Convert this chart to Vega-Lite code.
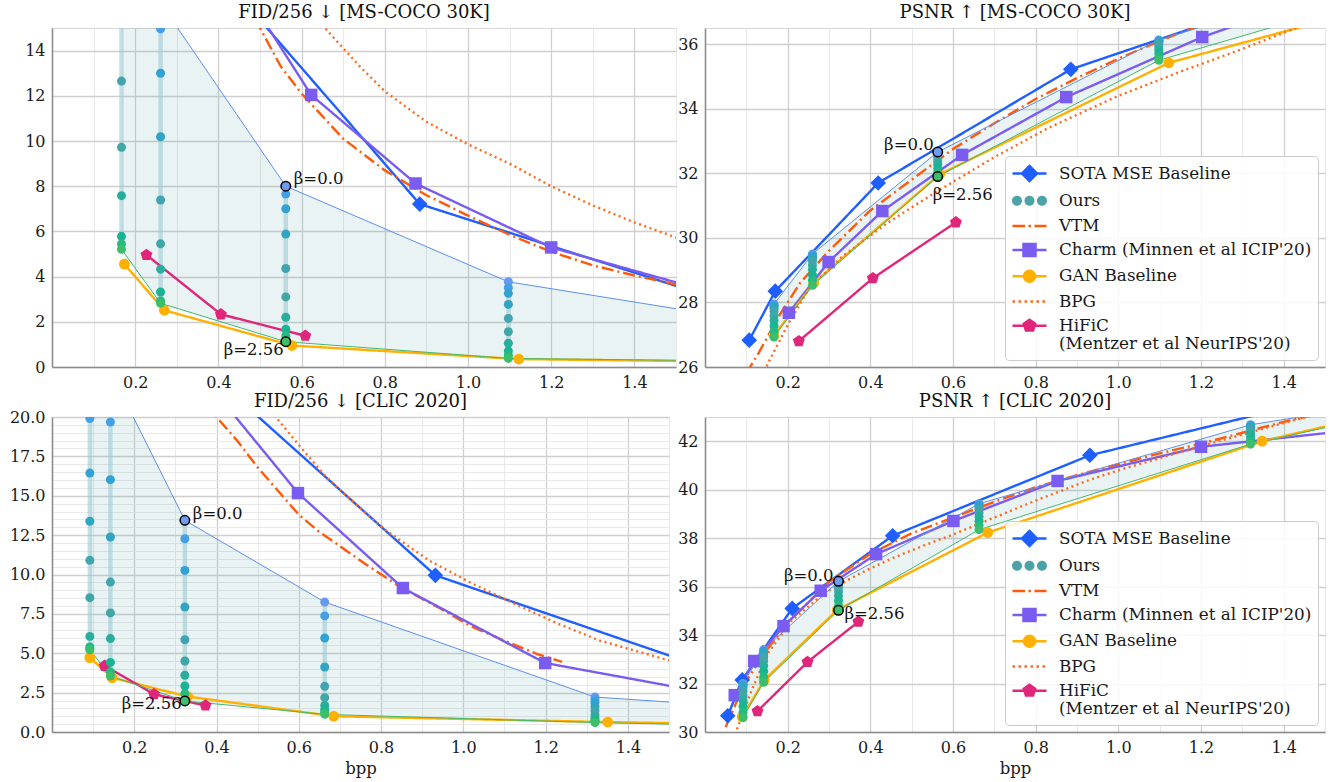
{
"$schema": "https://vega.github.io/schema/vega-lite/v6.json",
"padding": {"left": 8, "top": 3, "right": 2, "bottom": 2},
"datasets": {
"ours": [
{"p":"TL","bpp":0.167,"b":0,"v":30.0},{"p":"TL","bpp":0.167,"b":1,"v":24.0},{"p":"TL","bpp":0.167,"b":2,"v":19.2},{"p":"TL","bpp":0.167,"b":3,"v":15.8},{"p":"TL","bpp":0.167,"b":4,"v":12.65},{"p":"TL","bpp":0.167,"b":5,"v":9.72},{"p":"TL","bpp":0.167,"b":6,"v":7.58},{"p":"TL","bpp":0.167,"b":7,"v":5.78},{"p":"TL","bpp":0.167,"b":8,"v":5.44},{"p":"TL","bpp":0.167,"b":9,"v":5.21},
{"p":"TL","bpp":0.261,"b":0,"v":16.1},{"p":"TL","bpp":0.261,"b":1,"v":14.96},{"p":"TL","bpp":0.261,"b":2,"v":13.0},{"p":"TL","bpp":0.261,"b":3,"v":10.19},{"p":"TL","bpp":0.261,"b":4,"v":7.39},{"p":"TL","bpp":0.261,"b":5,"v":5.45},{"p":"TL","bpp":0.261,"b":6,"v":4.33},{"p":"TL","bpp":0.261,"b":7,"v":3.32},{"p":"TL","bpp":0.261,"b":8,"v":2.92},{"p":"TL","bpp":0.261,"b":9,"v":2.82},
{"p":"TL","bpp":0.562,"b":0,"v":8.0},{"p":"TL","bpp":0.562,"b":1,"v":7.65},{"p":"TL","bpp":0.562,"b":2,"v":7.0},{"p":"TL","bpp":0.562,"b":3,"v":5.88},{"p":"TL","bpp":0.562,"b":4,"v":4.36},{"p":"TL","bpp":0.562,"b":5,"v":3.1},{"p":"TL","bpp":0.562,"b":6,"v":2.2},{"p":"TL","bpp":0.562,"b":7,"v":1.67},{"p":"TL","bpp":0.562,"b":8,"v":1.37},{"p":"TL","bpp":0.562,"b":9,"v":1.12},
{"p":"TL","bpp":1.097,"b":0,"v":3.77},{"p":"TL","bpp":1.097,"b":1,"v":3.51},{"p":"TL","bpp":1.097,"b":2,"v":3.26},{"p":"TL","bpp":1.097,"b":3,"v":2.77},{"p":"TL","bpp":1.097,"b":4,"v":2.15},{"p":"TL","bpp":1.097,"b":5,"v":1.56},{"p":"TL","bpp":1.097,"b":6,"v":1.05},{"p":"TL","bpp":1.097,"b":7,"v":0.71},{"p":"TL","bpp":1.097,"b":8,"v":0.52},{"p":"TL","bpp":1.097,"b":9,"v":0.38},
{"p":"TL","bpp":1.75,"b":0,"v":1.84},{"p":"TL","bpp":1.75,"b":9,"v":0.25},
{"p":"TR","bpp":0.167,"b":0,"v":27.95},{"p":"TR","bpp":0.167,"b":1,"v":27.92},{"p":"TR","bpp":0.167,"b":2,"v":27.88},{"p":"TR","bpp":0.167,"b":3,"v":27.82},{"p":"TR","bpp":0.167,"b":4,"v":27.73},{"p":"TR","bpp":0.167,"b":5,"v":27.59},{"p":"TR","bpp":0.167,"b":6,"v":27.44},{"p":"TR","bpp":0.167,"b":7,"v":27.27},{"p":"TR","bpp":0.167,"b":8,"v":27.09},{"p":"TR","bpp":0.167,"b":9,"v":26.93},
{"p":"TR","bpp":0.26,"b":0,"v":29.5},{"p":"TR","bpp":0.26,"b":1,"v":29.47},{"p":"TR","bpp":0.26,"b":2,"v":29.43},{"p":"TR","bpp":0.26,"b":3,"v":29.37},{"p":"TR","bpp":0.26,"b":4,"v":29.29},{"p":"TR","bpp":0.26,"b":5,"v":29.16},{"p":"TR","bpp":0.26,"b":6,"v":29.02},{"p":"TR","bpp":0.26,"b":7,"v":28.85},{"p":"TR","bpp":0.26,"b":8,"v":28.69},{"p":"TR","bpp":0.26,"b":9,"v":28.53},
{"p":"TR","bpp":0.563,"b":0,"v":32.66},{"p":"TR","bpp":0.563,"b":1,"v":32.64},{"p":"TR","bpp":0.563,"b":2,"v":32.61},{"p":"TR","bpp":0.563,"b":3,"v":32.56},{"p":"TR","bpp":0.563,"b":4,"v":32.49},{"p":"TR","bpp":0.563,"b":5,"v":32.39},{"p":"TR","bpp":0.563,"b":6,"v":32.28},{"p":"TR","bpp":0.563,"b":7,"v":32.15},{"p":"TR","bpp":0.563,"b":8,"v":32.02},{"p":"TR","bpp":0.563,"b":9,"v":31.9},
{"p":"TR","bpp":1.098,"b":0,"v":36.13},{"p":"TR","bpp":1.098,"b":1,"v":36.11},{"p":"TR","bpp":1.098,"b":2,"v":36.09},{"p":"TR","bpp":1.098,"b":3,"v":36.05},{"p":"TR","bpp":1.098,"b":4,"v":35.99},{"p":"TR","bpp":1.098,"b":5,"v":35.91},{"p":"TR","bpp":1.098,"b":6,"v":35.82},{"p":"TR","bpp":1.098,"b":7,"v":35.71},{"p":"TR","bpp":1.098,"b":8,"v":35.6},{"p":"TR","bpp":1.098,"b":9,"v":35.5},
{"p":"TR","bpp":1.75,"b":0,"v":38.7},{"p":"TR","bpp":1.75,"b":9,"v":37.93},
{"p":"BL","bpp":0.092,"b":0,"v":30.0},{"p":"BL","bpp":0.092,"b":1,"v":19.9},{"p":"BL","bpp":0.092,"b":2,"v":16.44},{"p":"BL","bpp":0.092,"b":3,"v":13.38},{"p":"BL","bpp":0.092,"b":4,"v":10.9},{"p":"BL","bpp":0.092,"b":5,"v":8.53},{"p":"BL","bpp":0.092,"b":6,"v":6.07},{"p":"BL","bpp":0.092,"b":7,"v":5.4},{"p":"BL","bpp":0.092,"b":8,"v":5.28},{"p":"BL","bpp":0.092,"b":9,"v":5.21},
{"p":"BL","bpp":0.142,"b":0,"v":22.9},{"p":"BL","bpp":0.142,"b":1,"v":19.68},{"p":"BL","bpp":0.142,"b":2,"v":16.02},{"p":"BL","bpp":0.142,"b":3,"v":12.38},{"p":"BL","bpp":0.142,"b":4,"v":9.52},{"p":"BL","bpp":0.142,"b":5,"v":7.56},{"p":"BL","bpp":0.142,"b":6,"v":5.93},{"p":"BL","bpp":0.142,"b":7,"v":4.42},{"p":"BL","bpp":0.142,"b":8,"v":3.81},{"p":"BL","bpp":0.142,"b":9,"v":3.55},
{"p":"BL","bpp":0.323,"b":0,"v":13.44},{"p":"BL","bpp":0.323,"b":1,"v":12.27},{"p":"BL","bpp":0.323,"b":2,"v":10.26},{"p":"BL","bpp":0.323,"b":3,"v":7.94},{"p":"BL","bpp":0.323,"b":4,"v":5.86},{"p":"BL","bpp":0.323,"b":5,"v":4.51},{"p":"BL","bpp":0.323,"b":6,"v":3.6},{"p":"BL","bpp":0.323,"b":7,"v":2.92},{"p":"BL","bpp":0.323,"b":8,"v":2.43},{"p":"BL","bpp":0.323,"b":9,"v":1.97},
{"p":"BL","bpp":0.663,"b":0,"v":8.25},{"p":"BL","bpp":0.663,"b":1,"v":7.37},{"p":"BL","bpp":0.663,"b":2,"v":5.97},{"p":"BL","bpp":0.663,"b":3,"v":4.13},{"p":"BL","bpp":0.663,"b":4,"v":2.9},{"p":"BL","bpp":0.663,"b":5,"v":2.18},{"p":"BL","bpp":0.663,"b":6,"v":1.69},{"p":"BL","bpp":0.663,"b":7,"v":1.42},{"p":"BL","bpp":0.663,"b":8,"v":1.25},{"p":"BL","bpp":0.663,"b":9,"v":1.12},
{"p":"BL","bpp":1.32,"b":0,"v":2.22},{"p":"BL","bpp":1.32,"b":1,"v":2.05},{"p":"BL","bpp":1.32,"b":2,"v":1.85},{"p":"BL","bpp":1.32,"b":3,"v":1.6},{"p":"BL","bpp":1.32,"b":4,"v":1.35},{"p":"BL","bpp":1.32,"b":5,"v":1.1},{"p":"BL","bpp":1.32,"b":6,"v":0.9},{"p":"BL","bpp":1.32,"b":7,"v":0.75},{"p":"BL","bpp":1.32,"b":8,"v":0.66},{"p":"BL","bpp":1.32,"b":9,"v":0.6},
{"p":"BL","bpp":1.75,"b":0,"v":1.46},{"p":"BL","bpp":1.75,"b":9,"v":0.36},
{"p":"BR","bpp":0.092,"b":0,"v":32.0},{"p":"BR","bpp":0.092,"b":1,"v":31.96},{"p":"BR","bpp":0.092,"b":2,"v":31.9},{"p":"BR","bpp":0.092,"b":3,"v":31.82},{"p":"BR","bpp":0.092,"b":4,"v":31.69},{"p":"BR","bpp":0.092,"b":5,"v":31.51},{"p":"BR","bpp":0.092,"b":6,"v":31.3},{"p":"BR","bpp":0.092,"b":7,"v":31.06},{"p":"BR","bpp":0.092,"b":8,"v":30.82},{"p":"BR","bpp":0.092,"b":9,"v":30.6},
{"p":"BR","bpp":0.142,"b":0,"v":33.4},{"p":"BR","bpp":0.142,"b":1,"v":33.36},{"p":"BR","bpp":0.142,"b":2,"v":33.31},{"p":"BR","bpp":0.142,"b":3,"v":33.22},{"p":"BR","bpp":0.142,"b":4,"v":33.1},{"p":"BR","bpp":0.142,"b":5,"v":32.93},{"p":"BR","bpp":0.142,"b":6,"v":32.73},{"p":"BR","bpp":0.142,"b":7,"v":32.5},{"p":"BR","bpp":0.142,"b":8,"v":32.27},{"p":"BR","bpp":0.142,"b":9,"v":32.05},
{"p":"BR","bpp":0.323,"b":0,"v":36.22},{"p":"BR","bpp":0.323,"b":1,"v":36.18},{"p":"BR","bpp":0.323,"b":2,"v":36.14},{"p":"BR","bpp":0.323,"b":3,"v":36.06},{"p":"BR","bpp":0.323,"b":4,"v":35.96},{"p":"BR","bpp":0.323,"b":5,"v":35.8},{"p":"BR","bpp":0.323,"b":6,"v":35.62},{"p":"BR","bpp":0.323,"b":7,"v":35.42},{"p":"BR","bpp":0.323,"b":8,"v":35.21},{"p":"BR","bpp":0.323,"b":9,"v":35.02},
{"p":"BR","bpp":0.663,"b":0,"v":39.42},{"p":"BR","bpp":0.663,"b":1,"v":39.39},{"p":"BR","bpp":0.663,"b":2,"v":39.35},{"p":"BR","bpp":0.663,"b":3,"v":39.28},{"p":"BR","bpp":0.663,"b":4,"v":39.18},{"p":"BR","bpp":0.663,"b":5,"v":39.05},{"p":"BR","bpp":0.663,"b":6,"v":38.89},{"p":"BR","bpp":0.663,"b":7,"v":38.7},{"p":"BR","bpp":0.663,"b":8,"v":38.52},{"p":"BR","bpp":0.663,"b":9,"v":38.35},
{"p":"BR","bpp":1.32,"b":0,"v":42.68},{"p":"BR","bpp":1.32,"b":1,"v":42.66},{"p":"BR","bpp":1.32,"b":2,"v":42.62},{"p":"BR","bpp":1.32,"b":3,"v":42.58},{"p":"BR","bpp":1.32,"b":4,"v":42.5},{"p":"BR","bpp":1.32,"b":5,"v":42.4},{"p":"BR","bpp":1.32,"b":6,"v":42.28},{"p":"BR","bpp":1.32,"b":7,"v":42.14},{"p":"BR","bpp":1.32,"b":8,"v":42.0},{"p":"BR","bpp":1.32,"b":9,"v":41.88},
{"p":"BR","bpp":1.75,"b":0,"v":43.84},{"p":"BR","bpp":1.75,"b":9,"v":43.5}
],
"meth": [
{"p":"TL","m":"SOTA","bpp":0.42,"v":17.05},{"p":"TL","m":"SOTA","bpp":0.884,"v":7.21},{"p":"TL","m":"SOTA","bpp":1.75,"v":2.12},
{"p":"TL","m":"VTM","bpp":0.45,"v":17.2},{"p":"TL","m":"VTM","bpp":0.5,"v":15.0},{"p":"TL","m":"VTM","bpp":0.55,"v":13.3},{"p":"TL","m":"VTM","bpp":0.6,"v":12.1},{"p":"TL","m":"VTM","bpp":0.65,"v":11.1},{"p":"TL","m":"VTM","bpp":0.7,"v":10.1},{"p":"TL","m":"VTM","bpp":0.8,"v":8.7},{"p":"TL","m":"VTM","bpp":0.9,"v":7.6},{"p":"TL","m":"VTM","bpp":1.0,"v":6.7},{"p":"TL","m":"VTM","bpp":1.1,"v":5.85},{"p":"TL","m":"VTM","bpp":1.2,"v":5.1},{"p":"TL","m":"VTM","bpp":1.3,"v":4.5},{"p":"TL","m":"VTM","bpp":1.4,"v":4.05},{"p":"TL","m":"VTM","bpp":1.5,"v":3.65},{"p":"TL","m":"VTM","bpp":1.6,"v":3.3},
{"p":"TL","m":"Charm","bpp":0.43,"v":17.6},{"p":"TL","m":"Charm","bpp":0.623,"v":12.04},{"p":"TL","m":"Charm","bpp":0.874,"v":8.12},{"p":"TL","m":"Charm","bpp":1.2,"v":5.29},{"p":"TL","m":"Charm","bpp":1.6,"v":3.23},
{"p":"TL","m":"GAN","bpp":0.174,"v":4.55},{"p":"TL","m":"GAN","bpp":0.27,"v":2.51},{"p":"TL","m":"GAN","bpp":0.577,"v":0.95},{"p":"TL","m":"GAN","bpp":1.122,"v":0.35},{"p":"TL","m":"GAN","bpp":1.9,"v":0.18},
{"p":"TL","m":"BPG","bpp":0.6,"v":16.6},{"p":"TL","m":"BPG","bpp":0.656,"v":15.0},{"p":"TL","m":"BPG","bpp":0.74,"v":13.3},{"p":"TL","m":"BPG","bpp":0.8,"v":12.2},{"p":"TL","m":"BPG","bpp":0.9,"v":10.85},{"p":"TL","m":"BPG","bpp":1.0,"v":9.85},{"p":"TL","m":"BPG","bpp":1.1,"v":9.0},{"p":"TL","m":"BPG","bpp":1.2,"v":8.0},{"p":"TL","m":"BPG","bpp":1.3,"v":7.15},{"p":"TL","m":"BPG","bpp":1.4,"v":6.4},{"p":"TL","m":"BPG","bpp":1.5,"v":5.73},{"p":"TL","m":"BPG","bpp":1.6,"v":5.15},
{"p":"TL","m":"HiFiC","bpp":0.227,"v":4.96},{"p":"TL","m":"HiFiC","bpp":0.406,"v":2.33},{"p":"TL","m":"HiFiC","bpp":0.609,"v":1.38},
{"p":"TR","m":"SOTA","bpp":0.107,"v":26.83},{"p":"TR","m":"SOTA","bpp":0.17,"v":28.35},{"p":"TR","m":"SOTA","bpp":0.419,"v":31.7},{"p":"TR","m":"SOTA","bpp":0.885,"v":35.22},{"p":"TR","m":"SOTA","bpp":1.4,"v":37.45},
{"p":"TR","m":"VTM","bpp":0.1,"v":25.8},{"p":"TR","m":"VTM","bpp":0.13,"v":26.44},{"p":"TR","m":"VTM","bpp":0.18,"v":27.6},{"p":"TR","m":"VTM","bpp":0.23,"v":28.6},{"p":"TR","m":"VTM","bpp":0.3,"v":29.6},{"p":"TR","m":"VTM","bpp":0.4,"v":30.85},{"p":"TR","m":"VTM","bpp":0.5,"v":31.8},{"p":"TR","m":"VTM","bpp":0.6,"v":32.75},{"p":"TR","m":"VTM","bpp":0.7,"v":33.55},{"p":"TR","m":"VTM","bpp":0.8,"v":34.3},{"p":"TR","m":"VTM","bpp":0.9,"v":34.95},{"p":"TR","m":"VTM","bpp":1.0,"v":35.55},{"p":"TR","m":"VTM","bpp":1.1,"v":36.1},{"p":"TR","m":"VTM","bpp":1.2,"v":36.6},{"p":"TR","m":"VTM","bpp":1.3,"v":37.1},
{"p":"TR","m":"Charm","bpp":0.203,"v":27.68},{"p":"TR","m":"Charm","bpp":0.299,"v":29.25},{"p":"TR","m":"Charm","bpp":0.429,"v":30.83},{"p":"TR","m":"Charm","bpp":0.622,"v":32.57},{"p":"TR","m":"Charm","bpp":0.874,"v":34.36},{"p":"TR","m":"Charm","bpp":1.203,"v":36.22},{"p":"TR","m":"Charm","bpp":1.6,"v":38.0},
{"p":"TR","m":"GAN","bpp":0.167,"v":26.98},{"p":"TR","m":"GAN","bpp":0.263,"v":28.6},{"p":"TR","m":"GAN","bpp":0.568,"v":31.97},{"p":"TR","m":"GAN","bpp":1.122,"v":35.42},{"p":"TR","m":"GAN","bpp":1.75,"v":37.6},
{"p":"TR","m":"BPG","bpp":0.14,"v":25.7},{"p":"TR","m":"BPG","bpp":0.151,"v":26.08},{"p":"TR","m":"BPG","bpp":0.2,"v":27.3},{"p":"TR","m":"BPG","bpp":0.25,"v":28.4},{"p":"TR","m":"BPG","bpp":0.33,"v":29.4},{"p":"TR","m":"BPG","bpp":0.44,"v":30.45},{"p":"TR","m":"BPG","bpp":0.55,"v":31.35},{"p":"TR","m":"BPG","bpp":0.7,"v":32.5},{"p":"TR","m":"BPG","bpp":0.83,"v":33.4},{"p":"TR","m":"BPG","bpp":1.0,"v":34.4},{"p":"TR","m":"BPG","bpp":1.14,"v":35.1},{"p":"TR","m":"BPG","bpp":1.3,"v":35.85},{"p":"TR","m":"BPG","bpp":1.43,"v":36.5},{"p":"TR","m":"BPG","bpp":1.55,"v":37.0},
{"p":"TR","m":"HiFiC","bpp":0.227,"v":26.8},{"p":"TR","m":"HiFiC","bpp":0.406,"v":28.75},{"p":"TR","m":"HiFiC","bpp":0.607,"v":30.48},
{"p":"BL","m":"SOTA","bpp":0.455,"v":21.1},{"p":"BL","m":"SOTA","bpp":0.932,"v":9.95},{"p":"BL","m":"SOTA","bpp":1.75,"v":2.62},
{"p":"BL","m":"VTM","bpp":0.38,"v":21.0},{"p":"BL","m":"VTM","bpp":0.4,"v":20.0},{"p":"BL","m":"VTM","bpp":0.45,"v":18.5},{"p":"BL","m":"VTM","bpp":0.5,"v":16.8},{"p":"BL","m":"VTM","bpp":0.55,"v":15.3},{"p":"BL","m":"VTM","bpp":0.6,"v":13.8},{"p":"BL","m":"VTM","bpp":0.65,"v":12.7},{"p":"BL","m":"VTM","bpp":0.7,"v":11.8},{"p":"BL","m":"VTM","bpp":0.76,"v":10.7},{"p":"BL","m":"VTM","bpp":0.85,"v":9.15},{"p":"BL","m":"VTM","bpp":0.94,"v":7.9},{"p":"BL","m":"VTM","bpp":1.02,"v":6.7},{"p":"BL","m":"VTM","bpp":1.1,"v":5.8},{"p":"BL","m":"VTM","bpp":1.18,"v":4.95},{"p":"BL","m":"VTM","bpp":1.24,"v":4.45},
{"p":"BL","m":"Charm","bpp":0.415,"v":21.0},{"p":"BL","m":"Charm","bpp":0.598,"v":15.17},{"p":"BL","m":"Charm","bpp":0.853,"v":9.14},{"p":"BL","m":"Charm","bpp":1.199,"v":4.38},{"p":"BL","m":"Charm","bpp":1.8,"v":1.5},
{"p":"BL","m":"GAN","bpp":0.092,"v":4.72},{"p":"BL","m":"GAN","bpp":0.146,"v":3.45},{"p":"BL","m":"GAN","bpp":0.33,"v":2.25},{"p":"BL","m":"GAN","bpp":0.685,"v":1.0},{"p":"BL","m":"GAN","bpp":1.351,"v":0.63},{"p":"BL","m":"GAN","bpp":1.9,"v":0.4},
{"p":"BL","m":"BPG","bpp":0.5,"v":21.5},{"p":"BL","m":"BPG","bpp":0.547,"v":19.9},{"p":"BL","m":"BPG","bpp":0.604,"v":18.1},{"p":"BL","m":"BPG","bpp":0.666,"v":16.2},{"p":"BL","m":"BPG","bpp":0.728,"v":14.7},{"p":"BL","m":"BPG","bpp":0.812,"v":12.8},{"p":"BL","m":"BPG","bpp":0.916,"v":10.9},{"p":"BL","m":"BPG","bpp":1.02,"v":9.45},{"p":"BL","m":"BPG","bpp":1.124,"v":8.15},{"p":"BL","m":"BPG","bpp":1.228,"v":6.9},{"p":"BL","m":"BPG","bpp":1.332,"v":5.8},{"p":"BL","m":"BPG","bpp":1.5,"v":4.55},{"p":"BL","m":"BPG","bpp":1.6,"v":4.0},
{"p":"BL","m":"HiFiC","bpp":0.128,"v":4.2},{"p":"BL","m":"HiFiC","bpp":0.248,"v":2.4},{"p":"BL","m":"HiFiC","bpp":0.373,"v":1.68},
{"p":"BR","m":"SOTA","bpp":0.055,"v":30.67},{"p":"BR","m":"SOTA","bpp":0.09,"v":32.15},{"p":"BR","m":"SOTA","bpp":0.211,"v":35.1},{"p":"BR","m":"SOTA","bpp":0.454,"v":38.1},{"p":"BR","m":"SOTA","bpp":0.931,"v":41.42},{"p":"BR","m":"SOTA","bpp":1.75,"v":44.8},
{"p":"BR","m":"VTM","bpp":0.05,"v":30.2},{"p":"BR","m":"VTM","bpp":0.08,"v":31.4},{"p":"BR","m":"VTM","bpp":0.1,"v":32.1},{"p":"BR","m":"VTM","bpp":0.15,"v":33.4},{"p":"BR","m":"VTM","bpp":0.2,"v":34.5},{"p":"BR","m":"VTM","bpp":0.3,"v":36.2},{"p":"BR","m":"VTM","bpp":0.4,"v":37.35},{"p":"BR","m":"VTM","bpp":0.5,"v":38.2},{"p":"BR","m":"VTM","bpp":0.6,"v":38.85},{"p":"BR","m":"VTM","bpp":0.7,"v":39.5},{"p":"BR","m":"VTM","bpp":0.8,"v":40.1},{"p":"BR","m":"VTM","bpp":0.9,"v":40.6},{"p":"BR","m":"VTM","bpp":1.0,"v":41.05},{"p":"BR","m":"VTM","bpp":1.1,"v":41.5},{"p":"BR","m":"VTM","bpp":1.2,"v":41.9},{"p":"BR","m":"VTM","bpp":1.3,"v":42.35},{"p":"BR","m":"VTM","bpp":1.4,"v":42.8},{"p":"BR","m":"VTM","bpp":1.5,"v":43.2},
{"p":"BR","m":"Charm","bpp":0.072,"v":31.52},{"p":"BR","m":"Charm","bpp":0.119,"v":32.93},{"p":"BR","m":"Charm","bpp":0.19,"v":34.37},{"p":"BR","m":"Charm","bpp":0.28,"v":35.83},{"p":"BR","m":"Charm","bpp":0.414,"v":37.34},{"p":"BR","m":"Charm","bpp":0.601,"v":38.71},{"p":"BR","m":"Charm","bpp":0.853,"v":40.36},{"p":"BR","m":"Charm","bpp":1.2,"v":41.77},{"p":"BR","m":"Charm","bpp":1.75,"v":42.8},
{"p":"BR","m":"GAN","bpp":0.09,"v":30.62},{"p":"BR","m":"GAN","bpp":0.143,"v":32.14},{"p":"BR","m":"GAN","bpp":0.32,"v":35.04},{"p":"BR","m":"GAN","bpp":0.684,"v":38.23},{"p":"BR","m":"GAN","bpp":1.348,"v":42.0},{"p":"BR","m":"GAN","bpp":1.75,"v":43.6},
{"p":"BR","m":"BPG","bpp":0.06,"v":29.5},{"p":"BR","m":"BPG","bpp":0.078,"v":30.14},{"p":"BR","m":"BPG","bpp":0.11,"v":31.6},{"p":"BR","m":"BPG","bpp":0.15,"v":33.2},{"p":"BR","m":"BPG","bpp":0.21,"v":34.6},{"p":"BR","m":"BPG","bpp":0.29,"v":35.75},{"p":"BR","m":"BPG","bpp":0.37,"v":36.5},{"p":"BR","m":"BPG","bpp":0.45,"v":37.15},{"p":"BR","m":"BPG","bpp":0.53,"v":37.7},{"p":"BR","m":"BPG","bpp":0.6,"v":38.15},{"p":"BR","m":"BPG","bpp":0.7,"v":38.85},{"p":"BR","m":"BPG","bpp":0.8,"v":39.55},{"p":"BR","m":"BPG","bpp":0.93,"v":40.4},{"p":"BR","m":"BPG","bpp":1.0,"v":40.8},{"p":"BR","m":"BPG","bpp":1.2,"v":41.8},{"p":"BR","m":"BPG","bpp":1.4,"v":42.75},{"p":"BR","m":"BPG","bpp":1.5,"v":43.2},
{"p":"BR","m":"HiFiC","bpp":0.127,"v":30.86},{"p":"BR","m":"HiFiC","bpp":0.248,"v":32.89},{"p":"BR","m":"HiFiC","bpp":0.371,"v":34.55}
],
"ann": [
{"p":"TL","bpp":0.562,"v":8.0,"b":0,"label":"β=0.0"},{"p":"TL","bpp":0.562,"v":1.12,"b":9,"label":"β=2.56"},
{"p":"TR","bpp":0.563,"v":32.66,"b":0,"label":"β=0.0"},{"p":"TR","bpp":0.563,"v":31.9,"b":9,"label":"β=2.56"},
{"p":"BL","bpp":0.323,"v":13.44,"b":0,"label":"β=0.0"},{"p":"BL","bpp":0.323,"v":1.97,"b":9,"label":"β=2.56"},
{"p":"BR","bpp":0.323,"v":36.22,"b":0,"label":"β=0.0"},{"p":"BR","bpp":0.323,"v":35.02,"b":9,"label":"β=2.56"}
]
},
"config": {
"font": "DejaVu Serif",
"view": {"stroke": "#d6d6d6"},
"axis": {"labelFont": "DejaVu Serif", "labelFontSize": 16, "labelColor": "#1a1a1a", "ticks": false, "labelPadding": 7, "domainColor": "#8c8c8c", "domainWidth": 1.5, "titleFont": "DejaVu Serif", "titleFontSize": 16.5, "titleFontWeight": "normal", "titleColor": "#1a1a1a", "titlePadding": 5, "labelOverlap": false, "labelFlush": false},
"title": {"font": "DejaVu Serif", "fontSize": 18, "fontWeight": "normal", "color": "#111111", "offset": 6},
"legend": {"orient": "bottom-right", "offset": 7, "symbolSize": 400, "symbolStrokeWidth": 2.5, "symbolOffset": 7, "labelOffset": 18, "padding": 6, "rowPadding": 3.2, "labelFont": "DejaVu Serif", "labelFontSize": 16.8, "labelColor": "#1a1a1a", "labelLimit": 400, "strokeColor": "#cccccc", "fillColor": "rgba(255,255,255,0.85)", "cornerRadius": 4}
},
"columns": 2,
"align": "none",
"spacing": {"row": 1, "column": 0},
"concat": [
{"width": 624, "height": 339, "title": {"text": "FID/256 ↓ [MS-COCO 30K]"},
 "resolve": {"scale": {"color": "independent", "fill": "independent", "stroke": "independent", "shape": "independent", "strokeDash": "independent"}},
 "layer": [
  {"data": {"name": "ours"}, "transform": [{"filter": "datum.p=='TL'"}, {"aggregate": [{"op": "max", "field": "v", "as": "hi"}, {"op": "min", "field": "v", "as": "lo"}], "groupby": ["bpp"]}],
   "mark": {"type": "area", "clip": true, "color": "#5aa6a6", "opacity": 0.13},
   "encoding": {"x": {"field": "bpp", "type": "quantitative", "title": null, "scale": {"domain": [0, 1.5], "nice": false, "zero": false},
      "axis": {"labelOverlap": false, "values": [0,0.05,0.1,0.15,0.2,0.25,0.3,0.35,0.4,0.45,0.5,0.55,0.6,0.65,0.7,0.75,0.8,0.85,0.9,0.95,1,1.05,1.1,1.15,1.2,1.25,1.3,1.35,1.4,1.45,1.5], "labelExpr": "(round(datum.value*100) % 20 == 0 && datum.value > 0.01) ? format(datum.value, '.1f') : ''", "labelFontSize": {"condition": {"test": "round(datum.value*100) % 20 == 0", "value": 16}, "value": 1}, "gridColor": {"condition": {"test": "round(datum.value*100) % 20 == 0", "value": "#cfcfcf"}, "value": "#e9e9e9"}, "gridWidth": {"condition": {"test": "round(datum.value*100) % 20 == 0", "value": 1.3}, "value": 1}}},
     "y": {"field": "hi", "type": "quantitative", "title": null, "scale": {"domain": [0, 15], "nice": false, "zero": false},
      "axis": {"labelOverlap": false, "values": [0,0.5,1,1.5,2,2.5,3,3.5,4,4.5,5,5.5,6,6.5,7,7.5,8,8.5,9,9.5,10,10.5,11,11.5,12,12.5,13,13.5,14,14.5,15], "labelExpr": "round(datum.value*10) % 20 == 0 ? format(datum.value, 'd') : ''", "labelFontSize": {"condition": {"test": "round(datum.value*10) % 20 == 0", "value": 16}, "value": 1}, "gridColor": {"condition": {"test": "round(datum.value*10) % 20 == 0", "value": "#cfcfcf"}, "value": "#e9e9e9"}, "gridWidth": {"condition": {"test": "round(datum.value*10) % 20 == 0", "value": 1.3}, "value": 1}}},
     "y2": {"field": "lo"}}},
  {"data": {"name": "ours"}, "transform": [{"filter": "datum.p=='TL'"}, {"aggregate": [{"op": "max", "field": "v", "as": "hi"}, {"op": "min", "field": "v", "as": "lo"}], "groupby": ["bpp"]}],
   "mark": {"type": "rule", "clip": true, "color": "#9ccbd6", "strokeWidth": 4.5, "opacity": 0.6},
   "encoding": {"x": {"field": "bpp", "type": "quantitative", "title": null}, "y": {"field": "hi", "type": "quantitative", "title": null}, "y2": {"field": "lo"}}},
  {"data": {"name": "meth"}, "transform": [{"filter": "datum.p=='TL'"}],
   "mark": {"type": "line", "clip": true, "strokeWidth": 2.4},
   "encoding": {"x": {"field": "bpp", "type": "quantitative", "title": null}, "y": {"field": "v", "type": "quantitative", "title": null},
     "color": {"field": "m", "type": "nominal", "scale": {"domain": ["SOTA","VTM","Charm","GAN","BPG","HiFiC"], "range": ["#1f5fff","#ff5a0a","#7a5cf0","#ffb000","#ff6a1a","#e0267a"]}, "legend": null},
     "strokeDash": {"field": "m", "type": "nominal", "scale": {"domain": ["SOTA","VTM","Charm","GAN","BPG","HiFiC"], "range": [[1,0],[12,4,2,4],[1,0],[1,0],[2,3.5],[1,0]]}, "legend": null}}},
  {"data": {"name": "ours"}, "transform": [{"filter": "datum.p=='TL' && datum.b==0"}], "mark": {"type": "line", "clip": true, "color": "#5b8ff0", "strokeWidth": 1}, "encoding": {"x": {"field": "bpp", "type": "quantitative", "title": null}, "y": {"field": "v", "type": "quantitative", "title": null}}},
  {"data": {"name": "ours"}, "transform": [{"filter": "datum.p=='TL' && datum.b==9"}], "mark": {"type": "line", "clip": true, "color": "#3dba6f", "strokeWidth": 1}, "encoding": {"x": {"field": "bpp", "type": "quantitative", "title": null}, "y": {"field": "v", "type": "quantitative", "title": null}}},
  {"data": {"name": "meth"}, "transform": [{"filter": "datum.p=='TL' && datum.m!='VTM' && datum.m!='BPG'"}],
   "mark": {"type": "point", "clip": true, "filled": true, "size": 256, "opacity": 1},
   "encoding": {"x": {"field": "bpp", "type": "quantitative", "title": null}, "y": {"field": "v", "type": "quantitative", "title": null},
     "shape": {"field": "m", "type": "nominal", "scale": {"domain": ["SOTA","Charm","GAN","HiFiC"], "range": ["M0,-0.98L0.98,0L0,0.98L-0.98,0Z","M-0.78,-0.78L0.78,-0.78L0.78,0.78L-0.78,0.78Z","M-0.67,0a0.67,0.67 0 1,0 1.34,0a0.67,0.67 0 1,0 -1.34,0","M0,-0.78L0.742,-0.241L0.458,0.631L-0.458,0.631L-0.742,-0.241Z"]}, "legend": null},
     "color": {"field": "m", "type": "nominal", "scale": {"domain": ["SOTA","Charm","GAN","HiFiC"], "range": ["#1f5fff","#7a5cf0","#ffb000","#e0267a"]}, "legend": null}}},
  {"data": {"name": "ours"}, "transform": [{"filter": "datum.p=='TL'"}], "mark": {"type": "circle", "clip": true, "size": 81, "opacity": 1},
   "encoding": {"x": {"field": "bpp", "type": "quantitative", "title": null}, "y": {"field": "v", "type": "quantitative", "title": null},
     "color": {"field": "b", "type": "quantitative", "scale": {"domain": [0, 4.5, 9], "range": ["#6699f0", "#4ba3a7", "#3dbe6b"]}, "legend": null}}},
  {"data": {"name": "ann"}, "transform": [{"filter": "datum.p=='TL'"}], "mark": {"type": "circle", "clip": true, "size": 90, "stroke": "#000000", "strokeWidth": 1.5, "opacity": 1},
   "encoding": {"x": {"field": "bpp", "type": "quantitative", "title": null}, "y": {"field": "v", "type": "quantitative", "title": null},
     "fill": {"field": "b", "type": "nominal", "scale": {"domain": [0, 9], "range": ["#6d9cf0", "#3dbe6b"]}, "legend": null}}},
  {"data": {"name": "ann"}, "transform": [{"filter": "datum.p=='TL' && datum.b==0"}], "mark": {"type": "text", "align": "left", "dx": 8, "dy": -7, "fontSize": 16.5, "color": "#111111"},
   "encoding": {"x": {"field": "bpp", "type": "quantitative", "title": null}, "y": {"field": "v", "type": "quantitative", "title": null}, "text": {"field": "label"}}},
  {"data": {"name": "ann"}, "transform": [{"filter": "datum.p=='TL' && datum.b==9"}], "mark": {"type": "text", "align": "right", "dx": -2, "dy": 8, "fontSize": 16.5, "color": "#111111"},
   "encoding": {"x": {"field": "bpp", "type": "quantitative", "title": null}, "y": {"field": "v", "type": "quantitative", "title": null}, "text": {"field": "label"}}}
 ]},
{"width": 620, "height": 339, "title": {"text": "PSNR ↑ [MS-COCO 30K]"},
 "resolve": {"scale": {"color": "independent", "fill": "independent", "stroke": "independent", "shape": "independent", "strokeDash": "independent"}},
 "layer": [
  {"data": {"name": "ours"}, "transform": [{"filter": "datum.p=='TR'"}, {"aggregate": [{"op": "max", "field": "v", "as": "hi"}, {"op": "min", "field": "v", "as": "lo"}], "groupby": ["bpp"]}],
   "mark": {"type": "area", "clip": true, "color": "#5aa6a6", "opacity": 0.13},
   "encoding": {"x": {"field": "bpp", "type": "quantitative", "title": null, "scale": {"domain": [0, 1.5], "nice": false, "zero": false},
      "axis": {"labelOverlap": false, "values": [0,0.05,0.1,0.15,0.2,0.25,0.3,0.35,0.4,0.45,0.5,0.55,0.6,0.65,0.7,0.75,0.8,0.85,0.9,0.95,1,1.05,1.1,1.15,1.2,1.25,1.3,1.35,1.4,1.45,1.5], "labelExpr": "(round(datum.value*100) % 20 == 0 && datum.value > 0.01) ? format(datum.value, '.1f') : ''", "labelFontSize": {"condition": {"test": "round(datum.value*100) % 20 == 0", "value": 16}, "value": 1}, "gridColor": {"condition": {"test": "round(datum.value*100) % 20 == 0", "value": "#cfcfcf"}, "value": "#e9e9e9"}, "gridWidth": {"condition": {"test": "round(datum.value*100) % 20 == 0", "value": 1.3}, "value": 1}}},
     "y": {"field": "hi", "type": "quantitative", "title": null, "scale": {"domain": [26, 36.5], "nice": false, "zero": false},
      "axis": {"labelOverlap": false, "values": [26,26.5,27,27.5,28,28.5,29,29.5,30,30.5,31,31.5,32,32.5,33,33.5,34,34.5,35,35.5,36,36.5], "labelExpr": "round(datum.value*10) % 20 == 0 ? format(datum.value, 'd') : ''", "labelFontSize": {"condition": {"test": "round(datum.value*10) % 20 == 0", "value": 16}, "value": 1}, "gridColor": {"condition": {"test": "round(datum.value*10) % 20 == 0", "value": "#cfcfcf"}, "value": "#e9e9e9"}, "gridWidth": {"condition": {"test": "round(datum.value*10) % 20 == 0", "value": 1.3}, "value": 1}}},
     "y2": {"field": "lo"}}},
  {"data": {"name": "ours"}, "transform": [{"filter": "datum.p=='TR'"}, {"aggregate": [{"op": "max", "field": "v", "as": "hi"}, {"op": "min", "field": "v", "as": "lo"}], "groupby": ["bpp"]}],
   "mark": {"type": "rule", "clip": true, "color": "#9ccbd6", "strokeWidth": 4.5, "opacity": 0.6},
   "encoding": {"x": {"field": "bpp", "type": "quantitative", "title": null}, "y": {"field": "hi", "type": "quantitative", "title": null}, "y2": {"field": "lo"}}},
  {"data": {"name": "meth"}, "transform": [{"filter": "datum.p=='TR'"}],
   "mark": {"type": "line", "clip": true, "strokeWidth": 2.4},
   "encoding": {"x": {"field": "bpp", "type": "quantitative", "title": null}, "y": {"field": "v", "type": "quantitative", "title": null},
     "color": {"field": "m", "type": "nominal", "scale": {"domain": ["SOTA","VTM","Charm","GAN","BPG","HiFiC"], "range": ["#1f5fff","#ff5a0a","#7a5cf0","#ffb000","#ff6a1a","#e0267a"]}, "legend": null},
     "strokeDash": {"field": "m", "type": "nominal", "scale": {"domain": ["SOTA","VTM","Charm","GAN","BPG","HiFiC"], "range": [[1,0],[12,4,2,4],[1,0],[1,0],[2,3.5],[1,0]]}, "legend": null}}},
  {"data": {"name": "ours"}, "transform": [{"filter": "datum.p=='TR' && datum.b==0"}], "mark": {"type": "line", "clip": true, "color": "#5b8ff0", "strokeWidth": 1}, "encoding": {"x": {"field": "bpp", "type": "quantitative", "title": null}, "y": {"field": "v", "type": "quantitative", "title": null}}},
  {"data": {"name": "ours"}, "transform": [{"filter": "datum.p=='TR' && datum.b==9"}], "mark": {"type": "line", "clip": true, "color": "#3dba6f", "strokeWidth": 1}, "encoding": {"x": {"field": "bpp", "type": "quantitative", "title": null}, "y": {"field": "v", "type": "quantitative", "title": null}}},
  {"data": {"name": "meth"}, "transform": [{"filter": "datum.p=='TR' && datum.m!='VTM' && datum.m!='BPG'"}],
   "mark": {"type": "point", "clip": true, "filled": true, "size": 256, "opacity": 1},
   "encoding": {"x": {"field": "bpp", "type": "quantitative", "title": null}, "y": {"field": "v", "type": "quantitative", "title": null},
     "shape": {"field": "m", "type": "nominal", "scale": {"domain": ["SOTA","Charm","GAN","HiFiC"], "range": ["M0,-0.98L0.98,0L0,0.98L-0.98,0Z","M-0.78,-0.78L0.78,-0.78L0.78,0.78L-0.78,0.78Z","M-0.67,0a0.67,0.67 0 1,0 1.34,0a0.67,0.67 0 1,0 -1.34,0","M0,-0.78L0.742,-0.241L0.458,0.631L-0.458,0.631L-0.742,-0.241Z"]}, "legend": null},
     "color": {"field": "m", "type": "nominal", "scale": {"domain": ["SOTA","Charm","GAN","HiFiC"], "range": ["#1f5fff","#7a5cf0","#ffb000","#e0267a"]}, "legend": null}}},
  {"data": {"name": "ours"}, "transform": [{"filter": "datum.p=='TR'"}], "mark": {"type": "circle", "clip": true, "size": 81, "opacity": 1},
   "encoding": {"x": {"field": "bpp", "type": "quantitative", "title": null}, "y": {"field": "v", "type": "quantitative", "title": null},
     "color": {"field": "b", "type": "quantitative", "scale": {"domain": [0, 4.5, 9], "range": ["#6699f0", "#4ba3a7", "#3dbe6b"]}, "legend": null}}},
  {"data": {"name": "ann"}, "transform": [{"filter": "datum.p=='TR'"}], "mark": {"type": "circle", "clip": true, "size": 90, "stroke": "#000000", "strokeWidth": 1.5, "opacity": 1},
   "encoding": {"x": {"field": "bpp", "type": "quantitative", "title": null}, "y": {"field": "v", "type": "quantitative", "title": null},
     "fill": {"field": "b", "type": "nominal", "scale": {"domain": [0, 9], "range": ["#6d9cf0", "#3dbe6b"]}, "legend": null}}},
  {"data": {"name": "ann"}, "transform": [{"filter": "datum.p=='TR' && datum.b==0"}], "mark": {"type": "text", "align": "right", "dx": -4, "dy": -7, "fontSize": 16.5, "color": "#111111"},
   "encoding": {"x": {"field": "bpp", "type": "quantitative", "title": null}, "y": {"field": "v", "type": "quantitative", "title": null}, "text": {"field": "label"}}},
  {"data": {"name": "ann"}, "transform": [{"filter": "datum.p=='TR' && datum.b==9"}], "mark": {"type": "text", "align": "left", "dx": -5, "dy": 18, "fontSize": 16.5, "color": "#111111"},
   "encoding": {"x": {"field": "bpp", "type": "quantitative", "title": null}, "y": {"field": "v", "type": "quantitative", "title": null}, "text": {"field": "label"}}},
  {"data": {"name": "meth"}, "transform": [{"filter": "datum.p=='none'"}], "mark": {"type": "point", "filled": true, "opacity": 1, "strokeWidth": 2.5},
   "encoding": {"x": {"field": "bpp", "type": "quantitative", "title": null}, "y": {"field": "v", "type": "quantitative", "title": null},
     "shape": {"field": "m", "type": "nominal", "title": null, "scale": {"domain": ["SOTA","Ours","VTM","Charm","GAN","BPG","HiFiC"], "range": ["M-1.7,0L1.7,0M0,-0.75L0.75,0L0,0.75L-0.75,0Z","M-1.75,0a0.5,0.5 0 1,0 1,0a0.5,0.5 0 1,0 -1,0M-0.5,0a0.5,0.5 0 1,0 1,0a0.5,0.5 0 1,0 -1,0M0.75,0a0.5,0.5 0 1,0 1,0a0.5,0.5 0 1,0 -1,0","M-1.7,0L-0.45,0M-0.1,0L0.15,0M0.5,0L1.7,0","M-1.7,0L1.7,0M-0.6,-0.6L0.6,-0.6L0.6,0.6L-0.6,0.6Z","M-1.7,0L1.7,0M-0.55,0a0.55,0.55 0 1,0 1.1,0a0.55,0.55 0 1,0 -1.1,0","M-1.7,0L-1.45,0M-1.1,0L-0.85,0M-0.5,0L-0.25,0M0.1,0L0.35,0M0.7,0L0.95,0M1.3,0L1.55,0","M-1.7,0L1.7,0M0,-0.6L0.571,-0.185L0.353,0.485L-0.353,0.485L-0.571,-0.185Z"]},
       "legend": {"labelExpr": "datum.value == 'SOTA' ? 'SOTA MSE Baseline' : datum.value == 'Charm' ? \"Charm (Minnen et al ICIP'20)\" : datum.value == 'GAN' ? 'GAN Baseline' : datum.value == 'HiFiC' ? ['HiFiC', \"(Mentzer et al NeurIPS'20)\"] : datum.value"}},
     "fill": {"field": "m", "type": "nominal", "title": null, "scale": {"domain": ["SOTA","Ours","VTM","Charm","GAN","BPG","HiFiC"], "range": ["#1f5fff","#4ba3a7","#ff5a0a","#7a5cf0","#ffb000","#ff6a1a","#e0267a"]},
       "legend": {"labelExpr": "datum.value == 'SOTA' ? 'SOTA MSE Baseline' : datum.value == 'Charm' ? \"Charm (Minnen et al ICIP'20)\" : datum.value == 'GAN' ? 'GAN Baseline' : datum.value == 'HiFiC' ? ['HiFiC', \"(Mentzer et al NeurIPS'20)\"] : datum.value"}},
     "stroke": {"field": "m", "type": "nominal", "title": null, "scale": {"domain": ["SOTA","Ours","VTM","Charm","GAN","BPG","HiFiC"], "range": ["#1f5fff","rgba(0,0,0,0)","#ff5a0a","#7a5cf0","#ffb000","#ff6a1a","#e0267a"]},
       "legend": {"labelExpr": "datum.value == 'SOTA' ? 'SOTA MSE Baseline' : datum.value == 'Charm' ? \"Charm (Minnen et al ICIP'20)\" : datum.value == 'GAN' ? 'GAN Baseline' : datum.value == 'HiFiC' ? ['HiFiC', \"(Mentzer et al NeurIPS'20)\"] : datum.value"}}}}
 ]},
{"width": 617, "height": 315, "title": {"text": "FID/256 ↓ [CLIC 2020]", "offset": -2},
 "resolve": {"scale": {"color": "independent", "fill": "independent", "stroke": "independent", "shape": "independent", "strokeDash": "independent"}, "axis": {"y": "independent"}},
 "layer": [
  {"data": {"name": "ours"}, "transform": [{"filter": "datum.p=='BL'"}, {"aggregate": [{"op": "max", "field": "v", "as": "hi"}, {"op": "min", "field": "v", "as": "lo"}], "groupby": ["bpp"]}],
   "mark": {"type": "area", "clip": true, "color": "#5aa6a6", "opacity": 0.13},
   "encoding": {"x": {"field": "bpp", "type": "quantitative", "title": "bpp", "scale": {"domain": [0, 1.5], "nice": false, "zero": false},
      "axis": {"labelOverlap": false, "values": [0,0.05,0.1,0.15,0.2,0.25,0.3,0.35,0.4,0.45,0.5,0.55,0.6,0.65,0.7,0.75,0.8,0.85,0.9,0.95,1,1.05,1.1,1.15,1.2,1.25,1.3,1.35,1.4,1.45,1.5], "labelExpr": "(round(datum.value*100) % 20 == 0 && datum.value > 0.01) ? format(datum.value, '.1f') : ''", "labelFontSize": {"condition": {"test": "round(datum.value*100) % 20 == 0", "value": 16}, "value": 1}, "gridColor": {"condition": {"test": "round(datum.value*100) % 20 == 0", "value": "#cfcfcf"}, "value": "#e9e9e9"}, "gridWidth": {"condition": {"test": "round(datum.value*100) % 20 == 0", "value": 1.3}, "value": 1}}},
     "y": {"field": "hi", "type": "quantitative", "title": null, "scale": {"domain": [0, 20], "nice": false, "zero": false},
      "axis": {"labelOverlap": false, "values": [0,2.5,5,7.5,10,12.5,15,17.5,20], "format": ".1f", "gridColor": "#cfcfcf", "gridWidth": 1.3}},
     "y2": {"field": "lo"}}},
  {"data": {"name": "ours"}, "transform": [{"filter": "datum.p=='BL'"}, {"aggregate": [{"op": "max", "field": "v", "as": "hi"}, {"op": "min", "field": "v", "as": "lo"}], "groupby": ["bpp"]}],
   "mark": {"type": "rule", "clip": true, "color": "#9ccbd6", "strokeWidth": 4.5, "opacity": 0.6},
   "encoding": {"x": {"field": "bpp", "type": "quantitative", "title": "bpp"},
     "y": {"field": "hi", "type": "quantitative", "title": null, "axis": {"orient": "right", "values": [0.5,1,1.5,2,3,3.5,4,4.5,5.5,6,6.5,7,8,8.5,9,9.5,10.5,11,11.5,12,13,13.5,14,14.5,15.5,16,16.5,17,18,18.5,19,19.5], "labels": false, "ticks": false, "domain": false, "grid": true, "gridColor": "#e9e9e9", "gridWidth": 1, "title": null}},
     "y2": {"field": "lo"}}},
  {"data": {"name": "meth"}, "transform": [{"filter": "datum.p=='BL'"}],
   "mark": {"type": "line", "clip": true, "strokeWidth": 2.4},
   "encoding": {"x": {"field": "bpp", "type": "quantitative", "title": "bpp"}, "y": {"field": "v", "type": "quantitative", "title": null, "axis": null},
     "color": {"field": "m", "type": "nominal", "scale": {"domain": ["SOTA","VTM","Charm","GAN","BPG","HiFiC"], "range": ["#1f5fff","#ff5a0a","#7a5cf0","#ffb000","#ff6a1a","#e0267a"]}, "legend": null},
     "strokeDash": {"field": "m", "type": "nominal", "scale": {"domain": ["SOTA","VTM","Charm","GAN","BPG","HiFiC"], "range": [[1,0],[12,4,2,4],[1,0],[1,0],[2,3.5],[1,0]]}, "legend": null}}},
  {"data": {"name": "ours"}, "transform": [{"filter": "datum.p=='BL' && datum.b==0"}], "mark": {"type": "line", "clip": true, "color": "#5b8ff0", "strokeWidth": 1}, "encoding": {"x": {"field": "bpp", "type": "quantitative", "title": "bpp"}, "y": {"field": "v", "type": "quantitative", "title": null, "axis": null}}},
  {"data": {"name": "ours"}, "transform": [{"filter": "datum.p=='BL' && datum.b==9"}], "mark": {"type": "line", "clip": true, "color": "#3dba6f", "strokeWidth": 1}, "encoding": {"x": {"field": "bpp", "type": "quantitative", "title": "bpp"}, "y": {"field": "v", "type": "quantitative", "title": null, "axis": null}}},
  {"data": {"name": "meth"}, "transform": [{"filter": "datum.p=='BL' && datum.m!='VTM' && datum.m!='BPG'"}],
   "mark": {"type": "point", "clip": true, "filled": true, "size": 256, "opacity": 1},
   "encoding": {"x": {"field": "bpp", "type": "quantitative", "title": "bpp"}, "y": {"field": "v", "type": "quantitative", "title": null, "axis": null},
     "shape": {"field": "m", "type": "nominal", "scale": {"domain": ["SOTA","Charm","GAN","HiFiC"], "range": ["M0,-0.98L0.98,0L0,0.98L-0.98,0Z","M-0.78,-0.78L0.78,-0.78L0.78,0.78L-0.78,0.78Z","M-0.67,0a0.67,0.67 0 1,0 1.34,0a0.67,0.67 0 1,0 -1.34,0","M0,-0.78L0.742,-0.241L0.458,0.631L-0.458,0.631L-0.742,-0.241Z"]}, "legend": null},
     "color": {"field": "m", "type": "nominal", "scale": {"domain": ["SOTA","Charm","GAN","HiFiC"], "range": ["#1f5fff","#7a5cf0","#ffb000","#e0267a"]}, "legend": null}}},
  {"data": {"name": "ours"}, "transform": [{"filter": "datum.p=='BL'"}], "mark": {"type": "circle", "clip": true, "size": 81, "opacity": 1},
   "encoding": {"x": {"field": "bpp", "type": "quantitative", "title": "bpp"}, "y": {"field": "v", "type": "quantitative", "title": null, "axis": null},
     "color": {"field": "b", "type": "quantitative", "scale": {"domain": [0, 4.5, 9], "range": ["#6699f0", "#4ba3a7", "#3dbe6b"]}, "legend": null}}},
  {"data": {"name": "ann"}, "transform": [{"filter": "datum.p=='BL'"}], "mark": {"type": "circle", "clip": true, "size": 90, "stroke": "#000000", "strokeWidth": 1.5, "opacity": 1},
   "encoding": {"x": {"field": "bpp", "type": "quantitative", "title": "bpp"}, "y": {"field": "v", "type": "quantitative", "title": null, "axis": null},
     "fill": {"field": "b", "type": "nominal", "scale": {"domain": [0, 9], "range": ["#6d9cf0", "#3dbe6b"]}, "legend": null}}},
  {"data": {"name": "ann"}, "transform": [{"filter": "datum.p=='BL' && datum.b==0"}], "mark": {"type": "text", "align": "left", "dx": 8, "dy": -6, "fontSize": 16.5, "color": "#111111"},
   "encoding": {"x": {"field": "bpp", "type": "quantitative", "title": "bpp"}, "y": {"field": "v", "type": "quantitative", "title": null, "axis": null}, "text": {"field": "label"}}},
  {"data": {"name": "ann"}, "transform": [{"filter": "datum.p=='BL' && datum.b==9"}], "mark": {"type": "text", "align": "right", "dx": -3, "dy": 3, "fontSize": 16.5, "color": "#111111"},
   "encoding": {"x": {"field": "bpp", "type": "quantitative", "title": "bpp"}, "y": {"field": "v", "type": "quantitative", "title": null, "axis": null}, "text": {"field": "label"}}}
 ]},
{"width": 620, "height": 315, "title": {"text": "PSNR ↑ [CLIC 2020]"},
 "resolve": {"scale": {"color": "independent", "fill": "independent", "stroke": "independent", "shape": "independent", "strokeDash": "independent"}},
 "layer": [
  {"data": {"name": "ours"}, "transform": [{"filter": "datum.p=='BR'"}, {"aggregate": [{"op": "max", "field": "v", "as": "hi"}, {"op": "min", "field": "v", "as": "lo"}], "groupby": ["bpp"]}],
   "mark": {"type": "area", "clip": true, "color": "#5aa6a6", "opacity": 0.13},
   "encoding": {"x": {"field": "bpp", "type": "quantitative", "title": "bpp", "scale": {"domain": [0, 1.5], "nice": false, "zero": false},
      "axis": {"labelOverlap": false, "values": [0,0.05,0.1,0.15,0.2,0.25,0.3,0.35,0.4,0.45,0.5,0.55,0.6,0.65,0.7,0.75,0.8,0.85,0.9,0.95,1,1.05,1.1,1.15,1.2,1.25,1.3,1.35,1.4,1.45,1.5], "labelExpr": "(round(datum.value*100) % 20 == 0 && datum.value > 0.01) ? format(datum.value, '.1f') : ''", "labelFontSize": {"condition": {"test": "round(datum.value*100) % 20 == 0", "value": 16}, "value": 1}, "gridColor": {"condition": {"test": "round(datum.value*100) % 20 == 0", "value": "#cfcfcf"}, "value": "#e9e9e9"}, "gridWidth": {"condition": {"test": "round(datum.value*100) % 20 == 0", "value": 1.3}, "value": 1}}},
     "y": {"field": "hi", "type": "quantitative", "title": null, "scale": {"domain": [30, 43], "nice": false, "zero": false},
      "axis": {"labelOverlap": false, "values": [30,30.5,31,31.5,32,32.5,33,33.5,34,34.5,35,35.5,36,36.5,37,37.5,38,38.5,39,39.5,40,40.5,41,41.5,42,42.5,43], "labelExpr": "round(datum.value*10) % 20 == 0 ? format(datum.value, 'd') : ''", "labelFontSize": {"condition": {"test": "round(datum.value*10) % 20 == 0", "value": 16}, "value": 1}, "gridColor": {"condition": {"test": "round(datum.value*10) % 20 == 0", "value": "#cfcfcf"}, "value": "#e9e9e9"}, "gridWidth": {"condition": {"test": "round(datum.value*10) % 20 == 0", "value": 1.3}, "value": 1}}},
     "y2": {"field": "lo"}}},
  {"data": {"name": "ours"}, "transform": [{"filter": "datum.p=='BR'"}, {"aggregate": [{"op": "max", "field": "v", "as": "hi"}, {"op": "min", "field": "v", "as": "lo"}], "groupby": ["bpp"]}],
   "mark": {"type": "rule", "clip": true, "color": "#9ccbd6", "strokeWidth": 4.5, "opacity": 0.6},
   "encoding": {"x": {"field": "bpp", "type": "quantitative", "title": "bpp"}, "y": {"field": "hi", "type": "quantitative", "title": null}, "y2": {"field": "lo"}}},
  {"data": {"name": "meth"}, "transform": [{"filter": "datum.p=='BR'"}],
   "mark": {"type": "line", "clip": true, "strokeWidth": 2.4},
   "encoding": {"x": {"field": "bpp", "type": "quantitative", "title": "bpp"}, "y": {"field": "v", "type": "quantitative", "title": null},
     "color": {"field": "m", "type": "nominal", "scale": {"domain": ["SOTA","VTM","Charm","GAN","BPG","HiFiC"], "range": ["#1f5fff","#ff5a0a","#7a5cf0","#ffb000","#ff6a1a","#e0267a"]}, "legend": null},
     "strokeDash": {"field": "m", "type": "nominal", "scale": {"domain": ["SOTA","VTM","Charm","GAN","BPG","HiFiC"], "range": [[1,0],[12,4,2,4],[1,0],[1,0],[2,3.5],[1,0]]}, "legend": null}}},
  {"data": {"name": "ours"}, "transform": [{"filter": "datum.p=='BR' && datum.b==0"}], "mark": {"type": "line", "clip": true, "color": "#5b8ff0", "strokeWidth": 1}, "encoding": {"x": {"field": "bpp", "type": "quantitative", "title": "bpp"}, "y": {"field": "v", "type": "quantitative", "title": null}}},
  {"data": {"name": "ours"}, "transform": [{"filter": "datum.p=='BR' && datum.b==9"}], "mark": {"type": "line", "clip": true, "color": "#3dba6f", "strokeWidth": 1}, "encoding": {"x": {"field": "bpp", "type": "quantitative", "title": "bpp"}, "y": {"field": "v", "type": "quantitative", "title": null}}},
  {"data": {"name": "meth"}, "transform": [{"filter": "datum.p=='BR' && datum.m!='VTM' && datum.m!='BPG'"}],
   "mark": {"type": "point", "clip": true, "filled": true, "size": 256, "opacity": 1},
   "encoding": {"x": {"field": "bpp", "type": "quantitative", "title": "bpp"}, "y": {"field": "v", "type": "quantitative", "title": null},
     "shape": {"field": "m", "type": "nominal", "scale": {"domain": ["SOTA","Charm","GAN","HiFiC"], "range": ["M0,-0.98L0.98,0L0,0.98L-0.98,0Z","M-0.78,-0.78L0.78,-0.78L0.78,0.78L-0.78,0.78Z","M-0.67,0a0.67,0.67 0 1,0 1.34,0a0.67,0.67 0 1,0 -1.34,0","M0,-0.78L0.742,-0.241L0.458,0.631L-0.458,0.631L-0.742,-0.241Z"]}, "legend": null},
     "color": {"field": "m", "type": "nominal", "scale": {"domain": ["SOTA","Charm","GAN","HiFiC"], "range": ["#1f5fff","#7a5cf0","#ffb000","#e0267a"]}, "legend": null}}},
  {"data": {"name": "ours"}, "transform": [{"filter": "datum.p=='BR'"}], "mark": {"type": "circle", "clip": true, "size": 81, "opacity": 1},
   "encoding": {"x": {"field": "bpp", "type": "quantitative", "title": "bpp"}, "y": {"field": "v", "type": "quantitative", "title": null},
     "color": {"field": "b", "type": "quantitative", "scale": {"domain": [0, 4.5, 9], "range": ["#6699f0", "#4ba3a7", "#3dbe6b"]}, "legend": null}}},
  {"data": {"name": "ann"}, "transform": [{"filter": "datum.p=='BR'"}], "mark": {"type": "circle", "clip": true, "size": 90, "stroke": "#000000", "strokeWidth": 1.5, "opacity": 1},
   "encoding": {"x": {"field": "bpp", "type": "quantitative", "title": "bpp"}, "y": {"field": "v", "type": "quantitative", "title": null},
     "fill": {"field": "b", "type": "nominal", "scale": {"domain": [0, 9], "range": ["#6d9cf0", "#3dbe6b"]}, "legend": null}}},
  {"data": {"name": "ann"}, "transform": [{"filter": "datum.p=='BR' && datum.b==0"}], "mark": {"type": "text", "align": "right", "dx": -5, "dy": -5, "fontSize": 16.5, "color": "#111111"},
   "encoding": {"x": {"field": "bpp", "type": "quantitative", "title": "bpp"}, "y": {"field": "v", "type": "quantitative", "title": null}, "text": {"field": "label"}}},
  {"data": {"name": "ann"}, "transform": [{"filter": "datum.p=='BR' && datum.b==9"}], "mark": {"type": "text", "align": "left", "dx": 6, "dy": 4, "fontSize": 16.5, "color": "#111111"},
   "encoding": {"x": {"field": "bpp", "type": "quantitative", "title": "bpp"}, "y": {"field": "v", "type": "quantitative", "title": null}, "text": {"field": "label"}}},
  {"data": {"name": "meth"}, "transform": [{"filter": "datum.p=='none'"}], "mark": {"type": "point", "filled": true, "opacity": 1, "strokeWidth": 2.5},
   "encoding": {"x": {"field": "bpp", "type": "quantitative", "title": "bpp"}, "y": {"field": "v", "type": "quantitative", "title": null},
     "shape": {"field": "m", "type": "nominal", "title": null, "scale": {"domain": ["SOTA","Ours","VTM","Charm","GAN","BPG","HiFiC"], "range": ["M-1.7,0L1.7,0M0,-0.75L0.75,0L0,0.75L-0.75,0Z","M-1.75,0a0.5,0.5 0 1,0 1,0a0.5,0.5 0 1,0 -1,0M-0.5,0a0.5,0.5 0 1,0 1,0a0.5,0.5 0 1,0 -1,0M0.75,0a0.5,0.5 0 1,0 1,0a0.5,0.5 0 1,0 -1,0","M-1.7,0L-0.45,0M-0.1,0L0.15,0M0.5,0L1.7,0","M-1.7,0L1.7,0M-0.6,-0.6L0.6,-0.6L0.6,0.6L-0.6,0.6Z","M-1.7,0L1.7,0M-0.55,0a0.55,0.55 0 1,0 1.1,0a0.55,0.55 0 1,0 -1.1,0","M-1.7,0L-1.45,0M-1.1,0L-0.85,0M-0.5,0L-0.25,0M0.1,0L0.35,0M0.7,0L0.95,0M1.3,0L1.55,0","M-1.7,0L1.7,0M0,-0.6L0.571,-0.185L0.353,0.485L-0.353,0.485L-0.571,-0.185Z"]},
       "legend": {"labelExpr": "datum.value == 'SOTA' ? 'SOTA MSE Baseline' : datum.value == 'Charm' ? \"Charm (Minnen et al ICIP'20)\" : datum.value == 'GAN' ? 'GAN Baseline' : datum.value == 'HiFiC' ? ['HiFiC', \"(Mentzer et al NeurIPS'20)\"] : datum.value"}},
     "fill": {"field": "m", "type": "nominal", "title": null, "scale": {"domain": ["SOTA","Ours","VTM","Charm","GAN","BPG","HiFiC"], "range": ["#1f5fff","#4ba3a7","#ff5a0a","#7a5cf0","#ffb000","#ff6a1a","#e0267a"]},
       "legend": {"labelExpr": "datum.value == 'SOTA' ? 'SOTA MSE Baseline' : datum.value == 'Charm' ? \"Charm (Minnen et al ICIP'20)\" : datum.value == 'GAN' ? 'GAN Baseline' : datum.value == 'HiFiC' ? ['HiFiC', \"(Mentzer et al NeurIPS'20)\"] : datum.value"}},
     "stroke": {"field": "m", "type": "nominal", "title": null, "scale": {"domain": ["SOTA","Ours","VTM","Charm","GAN","BPG","HiFiC"], "range": ["#1f5fff","rgba(0,0,0,0)","#ff5a0a","#7a5cf0","#ffb000","#ff6a1a","#e0267a"]},
       "legend": {"labelExpr": "datum.value == 'SOTA' ? 'SOTA MSE Baseline' : datum.value == 'Charm' ? \"Charm (Minnen et al ICIP'20)\" : datum.value == 'GAN' ? 'GAN Baseline' : datum.value == 'HiFiC' ? ['HiFiC', \"(Mentzer et al NeurIPS'20)\"] : datum.value"}}}}
 ]}
]
}
